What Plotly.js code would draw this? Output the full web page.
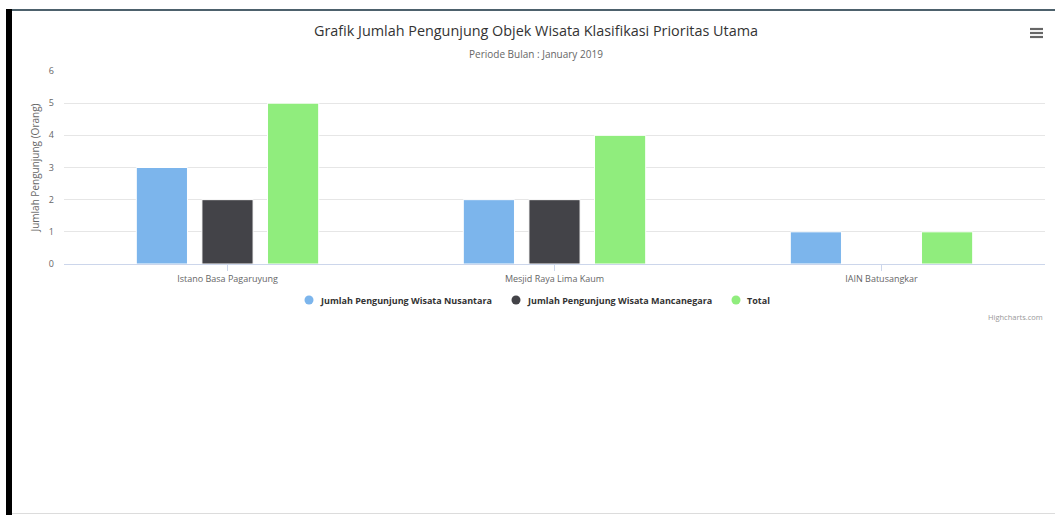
<!DOCTYPE html>
<html>
<head>
<meta charset="utf-8">
<script src="https://cdn.plot.ly/plotly-3.0.1.min.js"></script>
<style>
  html, body { margin: 0; padding: 0; background: #ffffff; }
  #wrap { position: relative; width: 1055px; height: 515px; overflow: hidden; }
  #chart { position: absolute; left: 0; top: 0; width: 1055px; height: 515px; }
  .frame-left { position: absolute; left: 6px; top: 9px; width: 6px; height: 506px; background: #000; }
  .frame-top { position: absolute; left: 12px; top: 9px; width: 1043px; height: 2px; background: #4d616c; }
  .frame-bottom { position: absolute; left: 12px; top: 513px; width: 1043px; height: 1px; background: #dcdcdc; }
</style>
</head>
<body>
<div id="wrap">
  <div id="chart"></div>
  <div class="frame-left"></div>
  <div class="frame-top"></div>
  <div class="frame-bottom"></div>
</div>
<script>
// Objek wisata (categories)
const categories = ['Istano Basa Pagaruyung', 'Mesjid Raya Lima Kaum', 'IAIN Batusangkar'];

// Visitor counts per series
const nusantara = [3, 2, 1];
const mancanegara = [2, 2, 0];
const total = [5, 4, 1];

const seriesNames = [
  'Jumlah Pengunjung Wisata Nusantara',
  'Jumlah Pengunjung Wisata Mancanegara',
  'Total'
];
const seriesColors = ['#7cb5ec', '#434348', '#90ed7d'];
const seriesValues = [nusantara, mancanegara, total];

const yTicks = [0, 1, 2, 3, 4, 5, 6];

const FONT = '"Open Sans", "Lucida Grande", sans-serif';

const traces = seriesValues.map((vals, i) => ({
  type: 'bar',
  name: seriesNames[i],
  x: categories,
  y: vals,
  marker: { color: seriesColors[i], line: { color: '#ffffff', width: 1 } },
  showlegend: false,
  hoverinfo: 'x+y+name'
}));

// Plot area edges in page pixels; helpers convert page pixels to paper units
const L = 64, R = 1045, T = 71, B = 264;
const px = v => (v - L) / (R - L);
const py = v => (B - v) / (B - T);

// Export-menu icon (three bars)
const shapes = [29, 33, 37].map(yy => ({
  type: 'line', xref: 'paper', yref: 'paper',
  x0: px(1030), x1: px(1043), y0: py(yy), y1: py(yy),
  line: { color: '#666666', width: 2.2 }
}));

// Legend drawn below the axis: round symbol followed by bold label
const legendY = 300;
const legendSymbolX = [309, 516, 736];
const annotations = [
  {
    text: 'Periode Bulan : January 2019',
    xref: 'paper', yref: 'paper',
    x: px(536), y: py(54),
    xanchor: 'center', yanchor: 'middle',
    showarrow: false,
    font: { family: FONT, size: 10, color: '#666666' }
  },
  {
    text: 'Highcharts.com',
    xref: 'paper', yref: 'paper',
    x: 1, y: py(317),
    xanchor: 'right', yanchor: 'middle',
    showarrow: false,
    font: { family: FONT, size: 7.5, color: '#999999' }
  }
];
seriesNames.forEach((name, i) => {
  const cx = legendSymbolX[i];
  shapes.push({
    type: 'circle', xref: 'paper', yref: 'paper',
    x0: px(cx - 4.5), x1: px(cx + 4.5),
    y0: py(legendY + 4.5), y1: py(legendY - 4.5),
    fillcolor: seriesColors[i],
    line: { width: 0 }
  });
  annotations.push({
    text: '<b>' + name + '</b>',
    xref: 'paper', yref: 'paper',
    x: px(cx + 9), y: py(legendY),
    xanchor: 'left', yanchor: 'middle',
    showarrow: false,
    font: { family: FONT, size: 9, color: '#333333' }
  });
});

const layout = {
  width: 1055,
  height: 515,
  paper_bgcolor: '#ffffff',
  plot_bgcolor: '#ffffff',
  margin: { l: L, r: 1055 - R, t: T, b: 515 - B, pad: 0 },
  font: { family: FONT, color: '#333333' },
  title: {
    text: 'Grafik Jumlah Pengunjung Objek Wisata Klasifikasi Prioritas Utama',
    font: { family: FONT, size: 14.4, color: '#333333' },
    x: 0.508, xanchor: 'center',
    y: 1 - 31 / 515, yanchor: 'middle'
  },
  barmode: 'group',
  bargap: 0.398,
  bargroupgap: 0.22,
  xaxis: {
    type: 'category',
    categoryorder: 'array',
    categoryarray: categories,
    showline: true,
    linecolor: '#ccd6eb',
    linewidth: 1,
    ticks: 'outside',
    ticklen: 6,
    tickcolor: '#ccd6eb',
    tickfont: { family: FONT, size: 9, color: '#666666' },
    showgrid: false,
    zeroline: false,
    fixedrange: true
  },
  yaxis: {
    range: [0, 6],
    tickvals: yTicks,
    ticktext: yTicks.map(String),
    showgrid: true,
    gridcolor: '#e6e6e6',
    gridwidth: 1,
    zeroline: false,
    showline: false,
    ticks: '',
    ticklabelstandoff: 9,
    tickfont: { family: FONT, size: 9, color: '#666666' },
    title: {
      text: 'Jumlah Pengunjung (Orang)',
      font: { family: FONT, size: 10, color: '#666666' },
      standoff: 7
    },
    fixedrange: true
  },
  annotations: annotations,
  shapes: shapes,
  showlegend: false
};

Plotly.newPlot('chart', traces, layout, { displayModeBar: false });
</script>
</body>
</html>
